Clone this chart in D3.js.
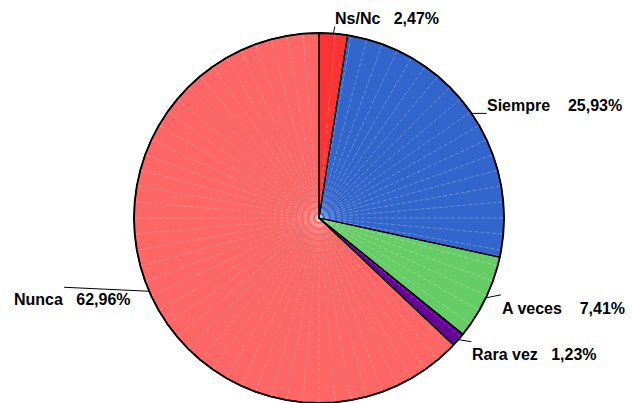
<!DOCTYPE html>
<html lang="es">
<head>
<meta charset="UTF-8">
<title>Pie</title>
<script src="https://d3js.org/d3.v7.min.js"></script>
<style>
    body { margin: 0; background: #fff; }
    .label { font-family: "Liberation Sans", Arial, sans-serif; font-weight: bold; font-size: 16px; fill: #000; white-space: pre; }
</style>
</head>
<body>
<div id="chart"></div>
<script>
    // data, clockwise from 12 o'clock
    var categories = ["Ns/Nc", "Siempre", "A veces", "Rara vez", "Nunca"];
    var percents = [2.47, 25.93, 7.41, 1.23, 62.96];
    var valueLabels = ["2,47%", "25,93%", "7,41%", "1,23%", "62,96%"];
    var colors = ["#FF3333", "#3366CC", "#66CC66", "#660099", "#FF6666"];

    var w = 632, h = 403;
    var cx = 319, cy = 218, r = 185;
    var stepDeg = 5;

    // label layout: leader end offset from arc point, text anchor offset, gap spaces
    var labelLayout = [
        { lx: 1.5, ly: -7,  tx: 335, ty: 24,  gap: "   " },
        { lx: 15,  ly: 0,   tx: 487, ty: 111, gap: "    " },
        { lx: 15,  ly: -3,  tx: 502, ty: 314, gap: "    " },
        { lx: 13,  ly: 2,   tx: 472, ty: 360, gap: "   " },
        { lx: -85, ly: -4,  tx: 14,  ty: 305, gap: "   " }
    ];

    var svg = d3.select("#chart").append("svg")
        .attr("width", w).attr("height", h);

    var pie = d3.pie().sort(null).value(function(d) { return d; });
    var arcs = pie(percents);

    var g = svg.append("g").attr("transform", "translate(" + cx + "," + cy + ")");

    var radial = d3.lineRadial()
        .angle(function(d) { return d[0]; })
        .radius(function(d) { return d[1]; });

    var step = stepDeg * Math.PI / 180;

    function vertices(a) {
        var pts = [a.startAngle];
        var k = Math.floor(a.startAngle / step) + 1;
        while (k * step < a.endAngle - 1e-6) { pts.push(k * step); k++; }
        pts.push(a.endAngle);
        return pts;
    }

    arcs.forEach(function(a, i) {
        var vs = vertices(a);
        var poly = [[0, 0]].concat(vs.map(function(t) { return [t, r]; }));
        g.append("path")
            .attr("d", radial(poly) + "Z")
            .attr("fill", colors[i])
            .attr("stroke", "none");

        // faint radial lines at polygon vertices
        vs.slice(1, -1).forEach(function(t) {
            g.append("path")
                .attr("d", radial([[t, 0], [t, r]]))
                .attr("stroke", "#fff")
                .attr("stroke-opacity", 0.35)
                .attr("stroke-width", 0.7)
                .attr("stroke-dasharray", "4,2");
        });
    });

    // slice boundaries and outline
    arcs.forEach(function(a, i) {
        var vs = vertices(a);
        var poly = [[0, 0]].concat(vs.map(function(t) { return [t, r]; }));
        g.append("path")
            .attr("d", radial(poly) + "Z")
            .attr("fill", "none")
            .attr("stroke", "#000")
            .attr("stroke-width", 1.2)
            .attr("stroke-linejoin", "round");
    });

    var outer = [];
    arcs.forEach(function(a) {
        vertices(a).forEach(function(t) { outer.push([t, r]); });
    });
    g.append("path")
        .attr("d", radial(outer) + "Z")
        .attr("fill", "none")
        .attr("stroke", "#000")
        .attr("stroke-width", 1.8)
        .attr("stroke-linejoin", "round");

    // labels with leader lines
    arcs.forEach(function(a, i) {
        var mid = (a.startAngle + a.endAngle) / 2;
        var px = cx + r * Math.sin(mid), py = cy - r * Math.cos(mid);
        var L = labelLayout[i];
        svg.append("line")
            .attr("x1", px).attr("y1", py)
            .attr("x2", px + L.lx).attr("y2", py + L.ly)
            .attr("stroke", "#000")
            .attr("stroke-width", 1);
        svg.append("text")
            .attr("class", "label")
            .attr("x", L.tx).attr("y", L.ty)
            .text(categories[i] + L.gap + valueLabels[i]);
    });
</script>
</body>
</html>
